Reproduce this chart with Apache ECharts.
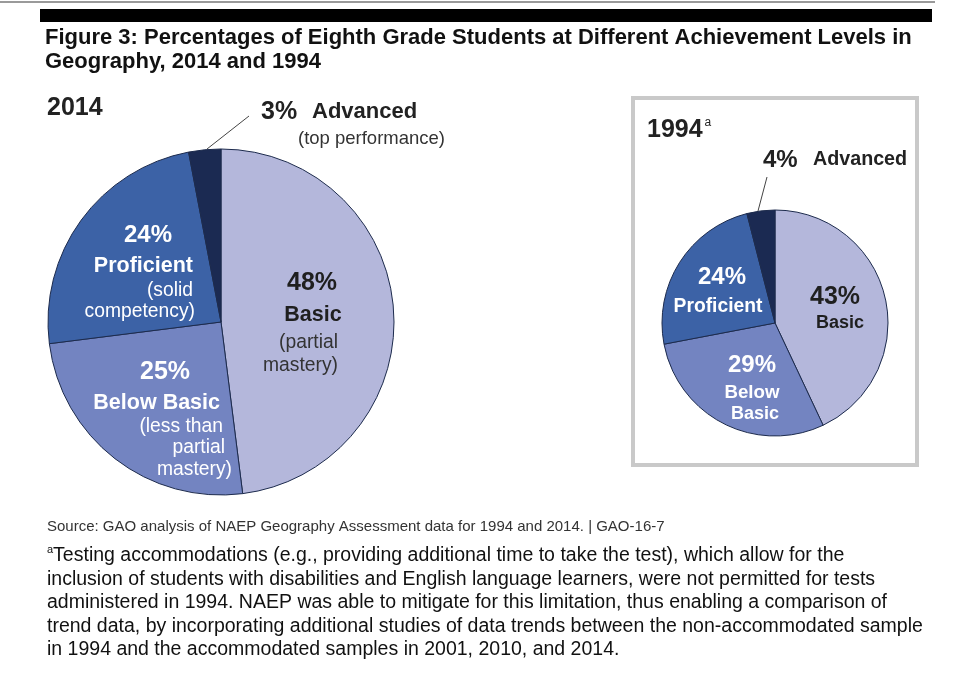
<!DOCTYPE html>
<html>
<head>
<meta charset="utf-8">
<script src="https://cdn.jsdelivr.net/npm/echarts@6/dist/echarts.min.js"></script>
<style>
html,body{margin:0;padding:0;background:#fff;}
#c{width:970px;height:684px;}
</style>
</head>
<body>
<div id="c"></div>
<script>
// ---- data ----
var levels = ['Basic', 'Below Basic', 'Proficient', 'Advanced'];
var values2014 = [48, 25, 24, 3];
var values1994 = [43, 29, 24, 4];
var sliceColors = ['#b4b7db', '#7384c1', '#3c62a6', '#1b2a52'];
var titleLines = ['Figure 3: Percentages of Eighth Grade Students at Different Achievement Levels in', 'Geography, 2014 and 1994'];
var sourceText = 'Source: GAO analysis of NAEP Geography Assessment data for 1994 and 2014. | GAO-16-7';
var noteLines = [
  'Testing accommodations (e.g., providing additional time to take the test), which allow for the',
  'inclusion of students with disabilities and English language learners, were not permitted for tests',
  'administered in 1994. NAEP was able to mitigate for this limitation, thus enabling a comparison of',
  'trend data, by incorporating additional studies of data trends between the non-accommodated sample',
  'in 1994 and the accommodated samples in 2001, 2010, and 2014.'
];

var FF = '"Liberation Sans", Arial, sans-serif';
function pct(v){ return v + '%'; }

function txt(text, x, y, size, weight, color, align){
  return {type:'text', silent:true, z:100, style:{text:text, x:x, y:y, fontSize:size, fontWeight:weight||'normal',
    fontFamily:FF, fill:color||'#1a1a1a', textAlign:align||'left', textVerticalAlign:'middle'}};
}

var W = '#ffffff', D = '#1f1f1f';
var g = [];
// top rule and black bar
g.push({type:'line', silent:true, z:100, shape:{x1:0,y1:2,x2:935,y2:2}, style:{stroke:'#9a9a9a', lineWidth:2}});
g.push({type:'rect', silent:true, z:100, shape:{x:40,y:9,width:892,height:13}, style:{fill:'#000'}});
// title
g.push(txt(titleLines[0], 45, 38, 22, 'bold', '#111'));
g.push(txt(titleLines[1], 45, 62, 22, 'bold', '#111'));
// 1994 box
g.push({type:'rect', silent:true, z:100, shape:{x:633,y:98,width:284,height:367}, style:{fill:'none', stroke:'#c9c9c9', lineWidth:4}});

// 2014 labels
g.push(txt('2014', 47, 108, 25, 'bold', '#222'));
g.push(txt(pct(values2014[3]), 261, 112, 25, 'bold', '#222'));
g.push(txt(levels[3], 312, 112, 22, 'bold', '#222'));
g.push(txt('(top performance)', 445, 139, 18.5, 'normal', '#333', 'right'));
g.push({type:'line', silent:true, z:100, shape:{x1:249,y1:116,x2:207,y2:149}, style:{stroke:'#444', lineWidth:1}});

g.push(txt(pct(values2014[2]), 148, 235, 24, 'bold', W, 'center'));
g.push(txt(levels[2], 193, 266, 21.5, 'bold', W, 'right'));
g.push(txt('(solid', 193, 291, 19.3, 'normal', W, 'right'));
g.push(txt('competency)', 195, 312, 19.3, 'normal', W, 'right'));

g.push(txt(pct(values2014[0]), 312, 283, 25, 'bold', D, 'center'));
g.push(txt(levels[0], 313, 315, 21.5, 'bold', D, 'center'));
g.push(txt('(partial', 338, 343, 19.3, 'normal', '#333', 'right'));
g.push(txt('mastery)', 338, 366, 19.3, 'normal', '#333', 'right'));

g.push(txt(pct(values2014[1]), 165, 372, 25, 'bold', W, 'center'));
g.push(txt(levels[1], 220, 403, 21.5, 'bold', W, 'right'));
g.push(txt('(less than', 223, 427, 19.3, 'normal', W, 'right'));
g.push(txt('partial', 225, 448, 19.3, 'normal', W, 'right'));
g.push(txt('mastery)', 232, 470, 19.3, 'normal', W, 'right'));

// 1994 labels
g.push({type:'text', silent:true, z:100, style:{text:'{y|1994}{s|a}', x:647, y:130, textVerticalAlign:'middle',
  rich:{y:{fontSize:25, fontWeight:'bold', fontFamily:FF, fill:'#222'}, s:{fontSize:12, fontFamily:FF, fill:'#222', verticalAlign:'top', padding:[0,0,14,2]}}}});
g.push(txt(pct(values1994[3]), 763, 160, 24, 'bold', '#222'));
g.push(txt(levels[3], 813, 160, 19.7, 'bold', '#222'));
g.push({type:'line', silent:true, z:100, shape:{x1:767,y1:177,x2:758,y2:211}, style:{stroke:'#444', lineWidth:1}});

g.push(txt(pct(values1994[2]), 722, 277, 24, 'bold', W, 'center'));
g.push(txt(levels[2], 718, 307, 19.3, 'bold', W, 'center'));
g.push(txt(pct(values1994[0]), 835, 297, 25, 'bold', D, 'center'));
g.push(txt(levels[0], 840, 323, 18, 'bold', D, 'center'));
g.push(txt(pct(values1994[1]), 752, 365, 24, 'bold', W, 'center'));
g.push(txt('Below', 752, 393, 18.7, 'bold', W, 'center'));
g.push(txt('Basic', 755, 414, 18, 'bold', W, 'center'));

// source + note
g.push(txt(sourceText, 47, 527, 15, 'normal', '#333'));
g.push({type:'text', silent:true, z:100, style:{text:'{s|a}{t|' + noteLines[0] + '}', x:47, y:556, textVerticalAlign:'middle',
  rich:{s:{fontSize:11, fontFamily:FF, fill:'#111', verticalAlign:'top', padding:[0,0,12,0]}, t:{fontSize:19.5, fontFamily:FF, fill:'#111'}}}});
for (var i = 1; i < noteLines.length; i++) {
  g.push(txt(noteLines[i], 47, 556 + i * 23.4, 19.5, 'normal', '#111'));
}

function pieSeries(vals, center, radius){
  return {
    type:'pie', center:center, radius:radius, startAngle:90, clockwise:true,
    animation:false, silent:true, label:{show:false}, labelLine:{show:false},
    itemStyle:{borderColor:'#1d2b4d', borderWidth:1},
    data: levels.map(function(n, i){ return {name:n, value:vals[i], itemStyle:{color:sliceColors[i]}}; })
  };
}

var chart = echarts.init(document.getElementById('c'), null, {renderer:'canvas'});
chart.setOption({
  backgroundColor:'#ffffff',
  animation:false,
  series:[
    pieSeries(values2014, [221, 322], 173),
    pieSeries(values1994, [775, 323], 113)
  ],
  graphic:{elements:g}
});
</script>
</body>
</html>
